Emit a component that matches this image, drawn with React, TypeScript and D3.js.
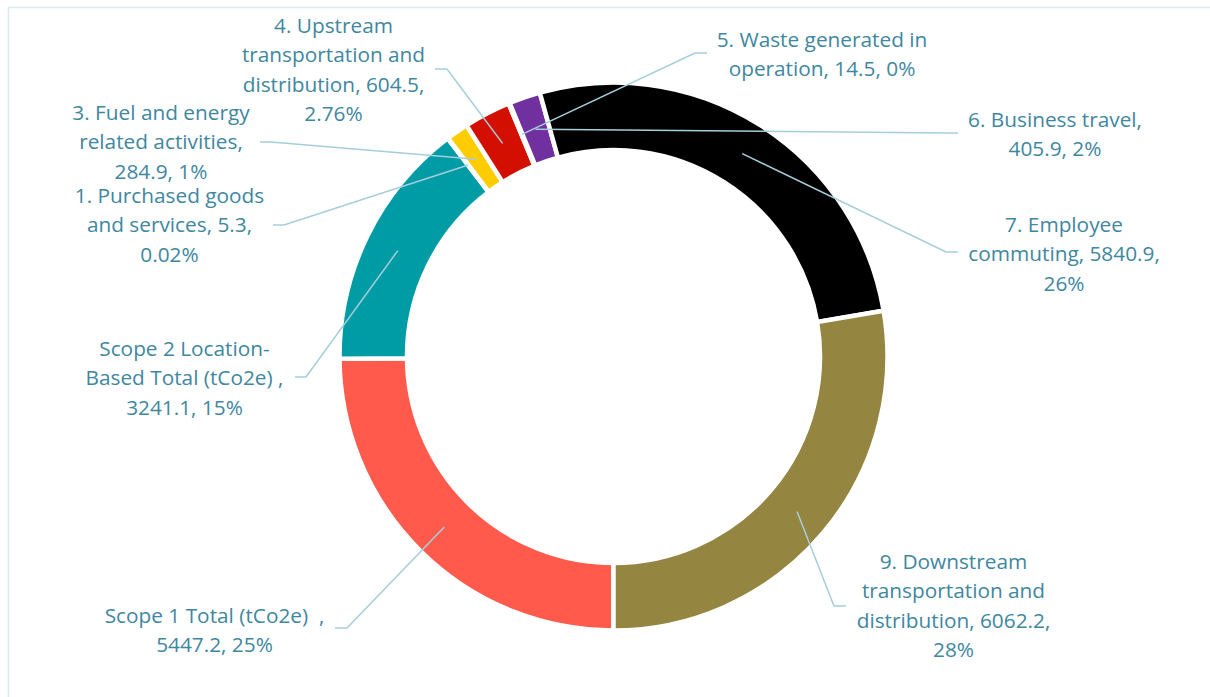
import React from "react";
import * as d3 from "d3";

const categories = [
  "Scope 1 Total (tCo2e) ",
  "Scope 2 Location-Based Total (tCo2e) ",
  "1. Purchased goods and services",
  "3. Fuel and energy related activities",
  "4. Upstream transportation and distribution",
  "5. Waste generated in operation",
  "6. Business travel",
  "7. Employee commuting",
  "9. Downstream transportation and distribution",
];
const values = [5447.2, 3241.1, 5.3, 284.9, 604.5, 14.5, 405.9, 5840.9, 6062.2];
const pctLabels = ["25%", "15%", "0.02%", "1%", "2.76%", "0%", "2%", "26%", "28%"];
const colors = ["#FF5A4B", "#009CA6", "#4F81BD", "#FFCC00", "#D20F00", "#8064A2", "#7030A0", "#000000", "#948541"];

// label text split into lines as in the reference
const labelLines = [
  ["Scope 1 Total (tCo2e)  ,", "5447.2, 25%"],
  ["Scope 2 Location-", "Based Total (tCo2e) ,", "3241.1, 15%"],
  ["1. Purchased goods", "and services, 5.3,", "0.02%"],
  ["3. Fuel and energy", "related activities,", "284.9, 1%"],
  ["4. Upstream", "transportation and", "distribution, 604.5,", "2.76%"],
  ["5. Waste generated in", "operation, 14.5, 0%"],
  ["6. Business travel,", "405.9, 2%"],
  ["7. Employee", "commuting, 5840.9,", "26%"],
  ["9. Downstream", "transportation and", "distribution, 6062.2,", "28%"],
];

// layout: label centre x, first baseline y, leader start (x,y), leader elbow x
const labelLayout = [
  { cx: 214.5, by: 623, lx: 335, ly: 628, ex: 347 },
  { cx: 184.5, by: 356, lx: 295, ly: 377, ex: 306 },
  { cx: 169.5, by: 203, lx: 273, ly: 225, ex: 284 },
  { cx: 161, by: 120, lx: 260, ly: 142, ex: 271 },
  { cx: 333.5, by: 33, lx: 435, ly: 69, ex: 447 },
  { cx: 822, by: 47, lx: 707, ly: 53, ex: 695 },
  { cx: 1055, by: 127, lx: 958, ly: 133, ex: 946 },
  { cx: 1064, by: 232, lx: 958, ly: 252, ex: 946 },
  { cx: 953.5, by: 569, lx: 846, ly: 606, ex: 834 },
];

const W = 1210;
const H = 697;
const CX = 613.5;
const CY = 356.5;
const R_OUT = 274;
const R_IN = 206.5;
const LINE_H = 29.3;

export default function App() {
  const pie = d3
    .pie<number>()
    .sort(null)
    .startAngle(Math.PI)
    .endAngle(3 * Math.PI)
    .value((d) => d);
  const arcs = pie(values);
  const arc = d3.arc<d3.PieArcDatum<number>>().innerRadius(R_IN).outerRadius(R_OUT);
  const midR = (R_IN + R_OUT) / 2;
  const midArc = d3.arc<d3.PieArcDatum<number>>().innerRadius(midR).outerRadius(midR);

  return (
    <div style={{ position: "absolute", left: 0, top: 0 }}>
      <svg width={W} height={H} style={{ display: "block" }}>
        <rect x={0} y={0} width={W} height={H} fill="#ffffff" />
        <line x1={8} y1={7.5} x2={W} y2={7.5} stroke="#DCEAF0" strokeWidth={1.5} />
        <line x1={8.5} y1={7} x2={8.5} y2={H} stroke="#DCEAF0" strokeWidth={1.5} />
        <g transform={`translate(${CX},${CY})`}>
          {arcs.map((a, i) => (
            <path key={i} d={arc(a) || ""} fill={colors[i]} stroke="#ffffff" strokeWidth={4.5} strokeLinejoin="miter" />
          ))}
        </g>
        {arcs.map((a, i) => {
          const [px, py] = midArc.centroid(a);
          const L = labelLayout[i];
          return (
            <polyline
              key={"l" + i}
              points={`${L.lx},${L.ly} ${L.ex},${L.ly} ${CX + px},${CY + py}`}
              fill="none"
              stroke="#A5CEDB"
              strokeWidth={1.5}
            />
          );
        })}
        {labelLines.map((lines, i) => {
          const L = labelLayout[i];
          return (
            <text
              key={"t" + i}
              x={L.cx}
              y={L.by}
              textAnchor="middle"
              fill="#40879F"
              style={{ fontFamily: "'Open Sans', sans-serif", fontSize: 20.8, whiteSpace: "pre" }}
            >
              {lines.map((ln, j) => (
                <tspan key={j} x={L.cx} y={L.by + j * LINE_H}>
                  {ln}
                </tspan>
              ))}
            </text>
          );
        })}
      </svg>
    </div>
  );
}
